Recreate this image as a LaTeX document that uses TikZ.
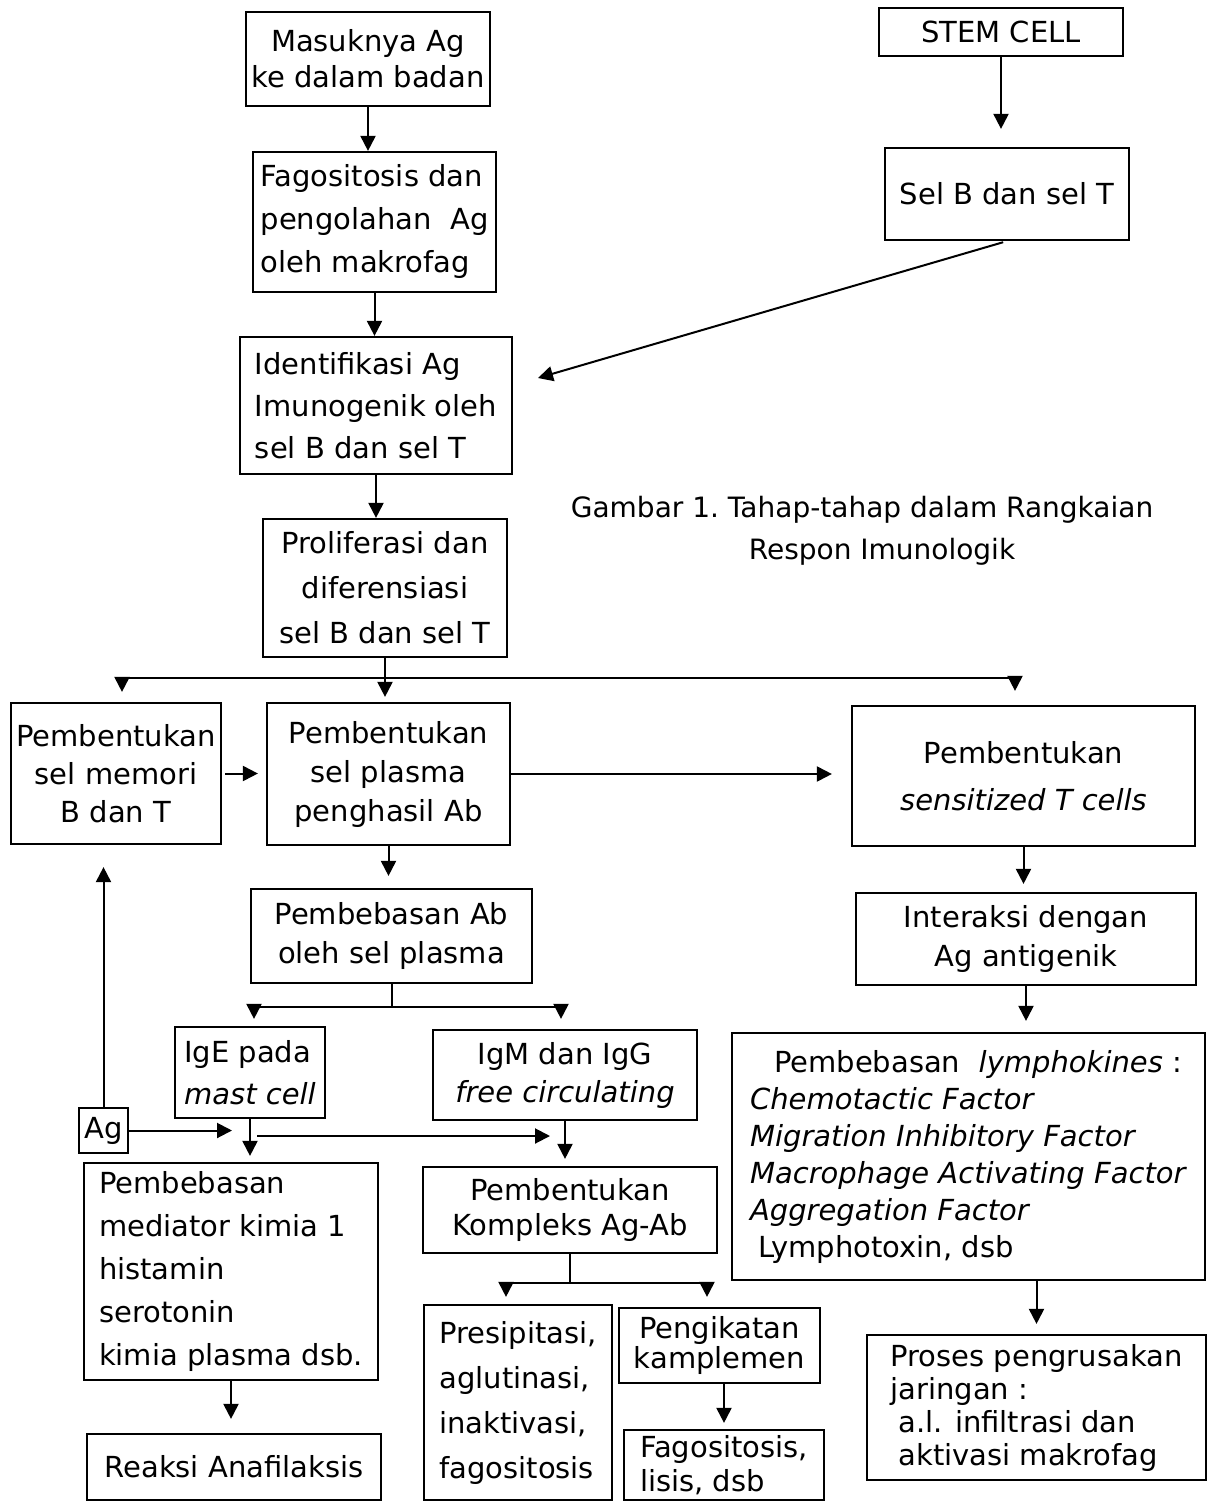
\documentclass[tikz,border=0pt]{standalone}
\usepackage{fontspec}
\setmainfont{DejaVu Sans}
\usetikzlibrary{arrows.meta,calc}
\newcommand\lsk[1]{\fontsize{14.5}{#1}\selectfont}
\begin{document}
\begin{tikzpicture}[x=0.5pt,y=-0.5pt,
  box/.style={draw,line width=1.1pt,inner sep=2pt,align=center},
  lbox/.style={box,align=left},
  arr/.style={line width=1pt,-{Triangle[length=7.5pt,width=7.5pt]}},
  ln/.style={line width=1pt}]
\useasboundingbox (0,0) rectangle (1216,1502);
% left column
\node[box,minimum width=122pt,minimum height=47pt,font=\lsk{18pt}] (mas) at (368,59) {Masuknya Ag\\ke dalam badan};
\node[lbox,minimum width=121.5pt,minimum height=70pt,font=\lsk{21.5pt}] (fag) at (374.5,222) {Fagositosis dan\\pengolahan\ \ Ag\\oleh makrofag};
\node[lbox,minimum width=136pt,minimum height=68.5pt,font=\lsk{21pt}] (ide) at (376,405.5) {Identifikasi Ag\\Imunogenik oleh\\sel B dan sel T};
\node[box,minimum width=122pt,minimum height=69pt,font=\lsk{22.5pt}] (pro) at (385,588) {Proliferasi dan\\diferensiasi\\sel B dan sel T};
% right top
\node[box,minimum width=122pt,minimum height=24pt,font=\lsk{18pt}] (stem) at (1001,32) {STEM CELL};
\node[box,minimum width=122pt,minimum height=46pt,font=\lsk{18pt}] (selbt) at (1007,194) {Sel B dan sel T};
\node[align=center,font=\fontsize{14}{21}\selectfont] (cap) at (862,531) {Gambar 1.\ Tahap-tahap dalam Rangkaian\\\hspace*{20pt}Respon Imunologik};
% row of three
\node[box,minimum width=105pt,minimum height=70.5pt,font=\lsk{19pt}] (mem) at (116,773.5) {Pembentukan\\sel memori\\B dan T};
\node[box,minimum width=121.5pt,minimum height=71pt,font=\lsk{19.5pt}] (pla) at (388.5,774) {Pembentukan\\sel plasma\\penghasil Ab};
\node[box,minimum width=171.5pt,minimum height=70pt,font=\lsk{23.5pt}] (sen) at (1023.5,776) {Pembentukan\\\itshape sensitized T cells};
% middle
\node[box,minimum width=140.5pt,minimum height=47pt,font=\lsk{19.5pt}] (pab) at (391.5,936) {Pembebasan Ab\\oleh sel plasma};
\node[lbox,minimum width=75pt,minimum height=45.5pt,inner sep=1pt,font=\lsk{21pt}] (ige) at (250,1072.5) {IgE pada\\\itshape mast cell};
\node[box,minimum width=132pt,minimum height=45pt,font=\lsk{19pt}] (igm) at (565,1075) {IgM dan IgG\\\itshape free circulating};
\node[box,minimum width=24.5pt,minimum height=22.5pt,inner sep=1pt,font=\lsk{18pt}] (ag) at (103.5,1130.5) {Ag};
\node[lbox,minimum width=147pt,minimum height=108.5pt,font=\lsk{21.5pt}] (med) at (231,1271.5) {Pembebasan\\mediator kimia 1\\histamin\\serotonin\\kimia plasma dsb.};
\node[box,minimum width=147pt,minimum height=33pt,font=\lsk{18pt}] (rea) at (234,1467) {Reaksi Anafilaksis};
\node[box,minimum width=147pt,minimum height=43pt,font=\lsk{17.5pt}] (kom) at (570,1210) {Pembentukan\\Kompleks Ag-Ab};
\node[lbox,minimum width=94pt,minimum height=97.5pt,inner sep=1pt,font=\lsk{22.5pt}] (pre) at (518,1402.5) {Presipitasi,\\aglutinasi,\\inaktivasi,\\fagositosis};
\node[box,minimum width=100.5pt,minimum height=37.5pt,font=\lsk{15pt}] (pen) at (719.5,1345.5) {Pengikatan\\kamplemen};
\node[lbox,minimum width=100pt,minimum height=35pt,font=\lsk{17pt}] (fls) at (724,1465) {Fagositosis,\\lisis, dsb};
% right column
\node[box,minimum width=170pt,minimum height=46pt,font=\lsk{19.5pt}] (int) at (1026,939) {Interaksi dengan\\Ag antigenik};
\node[lbox,minimum width=236.5pt,minimum height=123.5pt,font=\lsk{18.5pt}] (lym) at (968.5,1156.5) {\hspace*{12pt}Pembebasan\ \ \textit{lymphokines} :\\\textit{Chemotactic Factor}\\\textit{Migration Inhibitory Factor}\\\textit{Macrophage Activating Factor}\\\textit{Aggregation Factor}\\\hspace*{4pt}Lymphotoxin, dsb};
\node[lbox,minimum width=169.5pt,minimum height=72.5pt,font=\lsk{16.5pt}] (pro2) at (1036.5,1407.5) {Proses pengrusakan\\jaringan :\\\hspace*{4pt}a.l. infiltrasi dan\\\hspace*{4pt}aktivasi makrofag};
% coordinates
\coordinate (jL) at (122,678);
\coordinate (jR) at (1015,678);
\coordinate (kL) at (254,1007);
\coordinate (kR) at (561,1007);
\coordinate (m1) at (257,1136);
\coordinate (m2) at (550,1136);
\coordinate (hL) at (506,1283);
\coordinate (hR) at (707,1283);
\coordinate (t1) at (538,378);
% connectors
\draw[arr] (mas.south) -- (mas.south |- fag.north);
\draw[arr] (fag.south) -- (fag.south |- ide.north);
\draw[arr] (ide.south) -- (ide.south |- pro.north);
\draw[arr,shorten >=9pt] (stem.south) -- (stem.south |- selbt.north);
\draw[arr,shorten <=2pt] (selbt.south) -- (t1);
\draw[ln] (pro.south) -- (pro.south |- jL);
\draw[ln] (jL) -- (jR);
\draw[arr,shorten >=5pt] (jL) -- (jL |- mem.north);
\draw[arr,shorten >=2.5pt] (pro.south |- jL) -- (pro.south |- pla.north);
\draw[arr,shorten >=7pt] (jR) -- (jR |- sen.north);
\draw[arr,shorten >=4pt,shorten <=1.5pt] (mem.east) -- (mem.east -| pla.west);
\draw[arr,shorten >=9.5pt] (pla.east) -- (pla.east -| sen.west);
\draw[arr,shorten >=6pt] (pla.south) -- (pla.south |- pab.north);
\draw[arr,shorten >=4pt] (sen.south) -- (sen.south |- int.north);
\draw[ln] (pab.south) -- (pab.south |- kL);
\draw[ln] (kL) -- (kR);
\draw[arr,shorten >=3.5pt] (kL) -- (kL |- ige.north);
\draw[arr,shorten >=5pt] (kR) -- (kR |- igm.north);
\draw[arr,shorten >=11pt] (ag.north) -- (ag.north |- mem.south);
\draw[arr,shorten >=9pt] (ag.east) -- (ag.east -| ige.south);
\draw[arr,shorten >=3pt] (ige.south) -- (ige.south |- med.north);
\draw[arr] (m1) -- (m2);
\draw[arr,shorten >=3.5pt] (igm.south) -- (igm.south |- kom.north);
\draw[arr,shorten >=7pt] (med.south) -- (med.south |- rea.north);
\draw[ln] (kom.south) -- (kom.south |- hL);
\draw[ln] (hL) -- (hR);
\draw[arr,shorten >=3.5pt] (hL) -- (hL |- pre.north);
\draw[arr,shorten >=5pt] (hR) -- (hR |- pen.north);
\draw[arr,shorten >=3pt] (pen.south -| fls.north) -- (fls.north);
\draw[arr,shorten >=5.5pt] (int.south) -- (int.south |- lym.north);
\draw[arr,shorten >=5pt] (lym.south -| pro2.north) -- (pro2.north);
\end{tikzpicture}
\end{document}
